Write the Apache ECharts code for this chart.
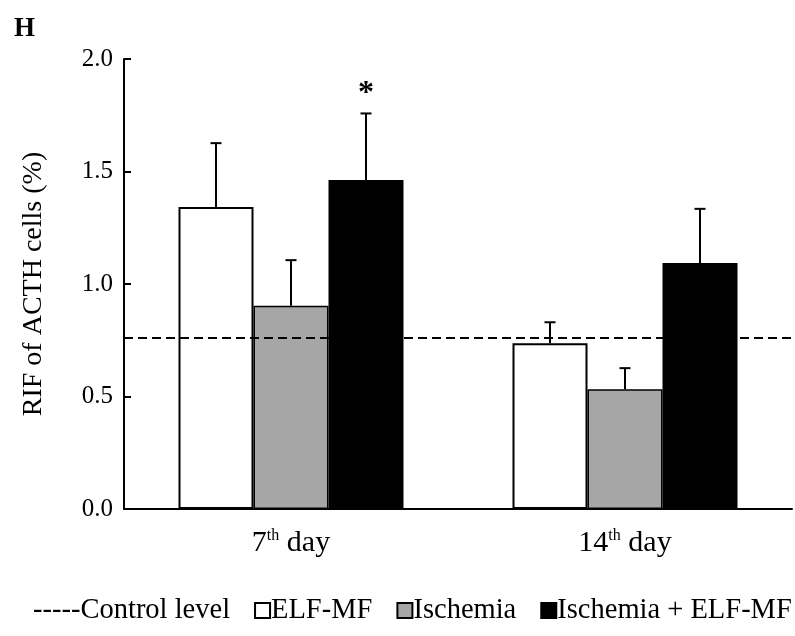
<!DOCTYPE html>
<html>
<head>
<meta charset="utf-8">
<script src="https://cdn.jsdelivr.net/npm/echarts@6/dist/echarts.min.js"></script>
<style>
  html, body { margin: 0; padding: 0; background: #fff; }
  #chart { width: 795px; height: 636px; }
</style>
</head>
<body>
<div id="chart"></div>
<script>
// values
const categories = ['7th day', '14th day']
const elfMF = [1.342, 0.737]
const ischemia = [0.903, 0.532]
const ischemiaElf = [1.462, 1.093]
const elfMFErr = [0.284, 0.093]
const ischemiaErr = [0.203, 0.094]
const ischemiaElfErr = [0.296, 0.241]
const ischemiaElfSig = ['*', '']
const controlLevel = 0.757
const yTicks = [0, 0.5, 1.0, 1.5, 2.0]

const FONT = '"Liberation Serif", "DejaVu Serif", serif'
const BAR_W = 75

const myChart = echarts.init(document.getElementById('chart'))

// upper error bar drawn with a custom series, shifted to sit on its bar
function errorSeries(name, values, errs, shift, marks) {
  return {
    name: name + ' err',
    type: 'custom',
    z: 5,
    data: values.map((v, i) => [i, v, v + errs[i], marks ? marks[i] : '']),
    renderItem(params, api) {
      const top = api.coord([api.value(0), api.value(2)])
      const base = api.coord([api.value(0), api.value(1)])
      const x = top[0] + shift
      const style = { stroke: '#000', lineWidth: 2 }
      const children = [
        { type: 'line', shape: { x1: x, y1: base[1], x2: x, y2: top[1] }, style },
        { type: 'line', shape: { x1: x - 5.5, y1: top[1], x2: x + 5.5, y2: top[1] }, style }
      ]
      const mark = marks ? marks[params.dataIndex] : ''
      if (mark) {
        children.push({
          type: 'text',
          style: {
            text: mark, x: x, y: top[1] - 4,
            align: 'center', verticalAlign: 'bottom',
            font: 'bold 32px ' + FONT, fill: '#000'
          }
        })
      }
      return { type: 'group', children }
    }
  }
}

const barBase = {
  type: 'bar',
  barWidth: BAR_W,
  barGap: '0%'
}

const option = {
  animation: false,
  grid: { left: 124, right: 3, top: 59, bottom: 127 },
  title: {
    text: 'H', left: 9, top: 11,
    textStyle: { fontFamily: FONT, fontSize: 27, fontWeight: 'bold', color: '#000' }
  },
  legend: {
    bottom: 11,
    left: 17,
    width: 778,
    padding: 0,
    itemGap: 24,
    itemWidth: 15,
    itemHeight: 15,
    textStyle: { fontFamily: FONT, fontSize: 28.5, color: '#000', padding: [0, 0, 0, -4] },
    data: [
      { name: 'Control level', icon: 'none' },
      { name: 'ELF-MF', icon: 'rect' },
      { name: 'Ischemia', icon: 'rect' },
      { name: 'Ischemia + ELF-MF', icon: 'rect' }
    ],
    formatter: name => name === 'Control level' ? '-----Control level' : name
  },
  xAxis: {
    type: 'category',
    data: categories,
    axisTick: { show: false },
    axisLine: { lineStyle: { color: '#000', width: 2 } },
    axisLabel: {
      margin: 19,
      formatter: v => {
        const m = v.match(/^(\d+)(th)(.*)$/)
        return '{a|' + m[1] + '}{s|' + m[2] + '}{a|' + m[3] + '}'
      },
      rich: {
        a: { fontFamily: FONT, fontSize: 30, color: '#000' },
        s: { fontFamily: FONT, fontSize: 16, color: '#000', verticalAlign: 'top', padding: [0, 0, 10, 0] }
      }
    }
  },
  yAxis: {
    type: 'value',
    min: yTicks[0],
    max: yTicks[yTicks.length - 1],
    interval: 0.5,
    name: 'RIF of ACTH cells (%)',
    nameLocation: 'middle',
    nameGap: 76,
    nameTextStyle: { fontFamily: FONT, fontSize: 28, color: '#000' },
    splitLine: { show: false },
    axisLine: { show: true, lineStyle: { color: '#000', width: 2 } },
    axisTick: { show: true, inside: true, length: 7, lineStyle: { color: '#000', width: 2 } },
    axisLabel: {
      margin: 11,
      fontFamily: FONT, fontSize: 25, color: '#000',
      formatter: v => v.toFixed(1)
    }
  },
  series: [
    {
      name: 'Control level',
      type: 'line',
      data: [],
      lineStyle: { color: '#000', type: 'dashed', width: 2 },
      markLine: {
        symbol: 'none',
        silent: true,
        label: { show: false },
        lineStyle: { color: '#000', type: [9, 5], width: 2 },
        data: [{ yAxis: controlLevel }]
      }
    },
    Object.assign({}, barBase, { name: 'ELF-MF', data: elfMF, itemStyle: { color: '#fff', borderColor: '#000', borderWidth: 2 } }),
    Object.assign({}, barBase, { name: 'Ischemia', data: ischemia, itemStyle: { color: '#a6a6a6', borderColor: '#000', borderWidth: 1.5 } }),
    Object.assign({}, barBase, { name: 'Ischemia + ELF-MF', data: ischemiaElf, itemStyle: { color: '#000', borderColor: '#000', borderWidth: 1.5 } }),
    errorSeries('ELF-MF', elfMF, elfMFErr, -BAR_W),
    errorSeries('Ischemia', ischemia, ischemiaErr, 0),
    errorSeries('Ischemia + ELF-MF', ischemiaElf, ischemiaElfErr, BAR_W, ischemiaElfSig)
  ]
}

myChart.setOption(option)
</script>
</body>
</html>
